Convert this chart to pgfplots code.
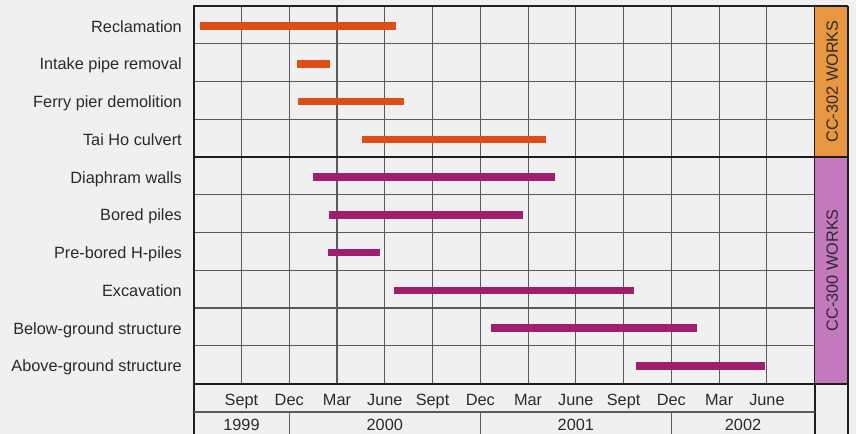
\documentclass[border=0pt]{standalone}
\usepackage{pgfplots}
\pgfplotsset{compat=1.18}
\usepackage{fontspec}
\setmainfont{Liberation Sans}
\definecolor{bg}{HTML}{F0F0F0}
\definecolor{gridc}{HTML}{5A5A5A}
\definecolor{frame}{HTML}{1E1E1E}
\definecolor{barA}{HTML}{E04E18}
\definecolor{barB}{HTML}{A01E6E}
\definecolor{panA}{HTML}{E8963F}
\definecolor{panB}{HTML}{C478BE}
\definecolor{txt}{HTML}{2A2A2A}
\begin{document}
\begin{tikzpicture}[font=\fontsize{16.3bp}{19bp}\selectfont, text=txt]
\fill[bg, use as bounding box] (-193.7bp,-50.5bp) rectangle (662.3bp,383.5bp);
\begin{axis}[at={(0,0)}, anchor=south west, scale only axis,
  width=621bp, height=377.5bp,
  xmin=0, xmax=39, ymin=0, ymax=10, clip=false,
  xtick={3,6,9,12,15,18,21,24,27,30,33,36},
  xticklabels={Sept,Dec,Mar,June,Sept,Dec,Mar,June,Sept,Dec,Mar,June},
  xticklabel style={anchor=base, inner sep=0pt, yshift=-21.8bp, text=txt},
  xmajorgrids, major grid style={gridc, line width=1.1bp},
  ytick={0.5,1.5,2.5,3.5,4.5,5.5,6.5,7.5,8.5,9.5},
  yticklabels={Above-ground structure, Below-ground structure, Excavation, Pre-bored H-piles, Bored piles, Diaphram walls, Tai Ho culvert, Ferry pier demolition, Intake pipe removal, Reclamation},
  yticklabel style={anchor=base east, inner sep=0pt, xshift=-11.7bp, yshift=-7.2bp, text=txt},
  minor ytick={1,2,3,4,5,6,7,8,9}, yminorgrids, minor grid style={gridc, line width=1.1bp},
  major tick length=0pt, minor tick length=0pt,
  axis line style={frame, line width=2bp},
  /pgf/number format/assume math mode=true,
]
% side panels
\fill[panA] (axis cs:39,6) rectangle (axis cs:41.07,10);
\fill[panB] (axis cs:39,0) rectangle (axis cs:41.07,6);
% bars: CC-302 works
\addplot[barA, line width=7.5bp, line cap=butt] coordinates {(0.4,9.47) (12.68,9.47)};
\addplot[barA, line width=7.5bp, line cap=butt] coordinates {(6.5,8.47) (8.54,8.47)};
\addplot[barA, line width=7.5bp, line cap=butt] coordinates {(6.57,7.47) (13.2,7.47)};
\addplot[barA, line width=7.5bp, line cap=butt] coordinates {(10.58,6.47) (22.1,6.47)};
% bars: CC-300 works
\addplot[barB, line width=7.5bp, line cap=butt] coordinates {(7.5,5.47) (22.7,5.47)};
\addplot[barB, line width=7.5bp, line cap=butt] coordinates {(8.5,4.47) (20.65,4.47)};
\addplot[barB, line width=7.5bp, line cap=butt] coordinates {(8.45,3.47) (11.7,3.47)};
\addplot[barB, line width=7.5bp, line cap=butt] coordinates {(12.57,2.47) (27.66,2.47)};
\addplot[barB, line width=7.5bp, line cap=butt] coordinates {(18.66,1.47) (31.6,1.47)};
\addplot[barB, line width=7.5bp, line cap=butt] coordinates {(27.75,0.47) (35.86,0.47)};
% frame lines
\draw[frame, line width=2bp] (axis cs:0,6) -- (axis cs:41.07,6);
\draw[frame, line width=2bp] (axis cs:0,0) -- (axis cs:41.07,0);
\draw[frame, line width=2bp] (axis cs:39,10) -- (axis cs:41.07,10);
\draw[frame, line width=1.8bp] (axis cs:41.07,10) -- (axis cs:41.07,-1.5);
\draw[frame, line width=2bp] (axis cs:0,0) -- (axis cs:0,-1.5);
\draw[frame, line width=1.8bp] (axis cs:39,0) -- (axis cs:39,-1.5);
\draw[gridc, line width=1.1bp] (axis cs:0,-0.755) -- (axis cs:39,-0.755);
\draw[gridc, line width=1.1bp] (axis cs:6,-0.755) -- (axis cs:6,-1.5);
\draw[gridc, line width=1.1bp] (axis cs:18,-0.755) -- (axis cs:18,-1.5);
\draw[gridc, line width=1.1bp] (axis cs:30,-0.755) -- (axis cs:30,-1.5);
% year labels
\node[anchor=base, inner sep=0pt, yshift=-46.8bp] at (axis cs:3,0) {1999};
\node[anchor=base, inner sep=0pt, yshift=-46.8bp] at (axis cs:12,0) {2000};
\node[anchor=base, inner sep=0pt, yshift=-46.8bp] at (axis cs:24,0) {2001};
\node[anchor=base, inner sep=0pt, yshift=-46.8bp] at (axis cs:34.5,0) {2002};
% panel titles
\node[rotate=90, anchor=center, inner sep=0pt] at (axis cs:40.1,8) {CC-302 WORKS};
\node[rotate=90, anchor=center, inner sep=0pt] at (axis cs:40.1,3) {CC-300 WORKS};
\end{axis}
\end{tikzpicture}
\end{document}
